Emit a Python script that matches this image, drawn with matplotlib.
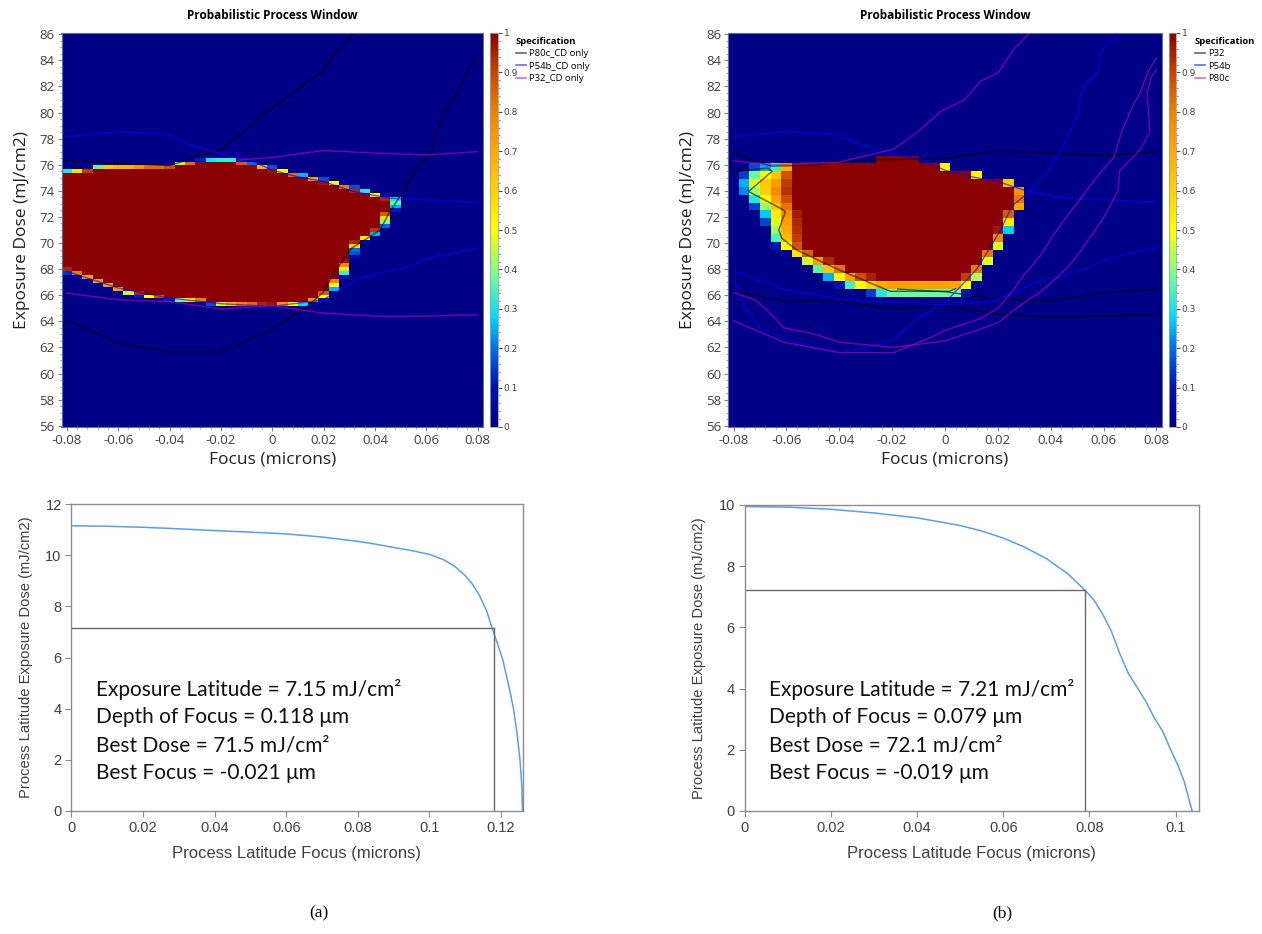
import numpy as np
import matplotlib
matplotlib.use("Agg")
import matplotlib.pyplot as plt
from matplotlib.path import Path
from matplotlib.colors import LinearSegmentedColormap
from matplotlib.lines import Line2D
from matplotlib.ticker import MultipleLocator

W, H = 1262, 934

# ---------------- heat map grids (cell centres) ----------------
focus_centres = np.round(np.arange(-0.08, 0.0801, 0.004), 4)
dose_centres_a = np.round(np.arange(56, 86.01, 0.3), 2)
dose_centres_b = np.round(np.arange(56, 86.01, 0.6), 2)

# (a) region where probability = 1 (sharp edge)
a_win_focus = [-0.083, -0.076, -0.07, -0.064, -0.04, -0.036, -0.03, -0.024, -0.014, -0.008,
               0.0, 0.008, 0.02, 0.03, 0.04, 0.048, 0.0465, 0.044, 0.042, 0.036, 0.031,
               0.030, 0.027, 0.023, 0.019, 0.014, 0.008, 0.0, -0.01, -0.02, -0.03, -0.04,
               -0.05, -0.058, -0.065, -0.07, -0.076, -0.083]
a_win_dose = [75.4, 75.5, 75.7, 75.85, 75.9, 76.1, 76.25, 76.35, 76.35, 76.0,
              75.7, 75.3, 74.8, 74.3, 73.7, 73.4, 72.5, 71.8, 71.0, 70.4, 69.6,
              68.6, 67.6, 66.5, 65.7, 65.4, 65.3, 65.15, 65.2, 65.3, 65.55, 65.7,
              65.95, 66.3, 66.8, 67.2, 67.6, 68.0]

# (b) core (p ~ 1) and outer edge (p ~ 0) of the window
b_core_focus = [-0.059, -0.0397, -0.0395, -0.025, -0.024, -0.012, -0.006, 0.007, 0.016,
                0.026, 0.027, 0.022, 0.018, 0.0132, 0.0094, 0.006, -0.0246, -0.032,
                -0.0396, -0.047, -0.0548, -0.0548, -0.0585, -0.059]
b_core_dose = [75.9, 75.9, 76.3, 76.3, 76.5, 76.5, 76.0, 75.3, 74.9,
               74.4, 73.0, 72.0, 70.2, 68.7, 67.6, 67.4, 67.4, 67.6,
               68.35, 68.97, 69.7, 72.0, 74.0, 75.5]
b_edge_focus = [-0.071, -0.0397, -0.0395, -0.025, -0.024, -0.012, -0.006, 0.007, 0.016,
                0.026, 0.0315, 0.032, 0.027, 0.023, 0.018, 0.0135, 0.0085, 0.006,
                -0.022, -0.0396, -0.047, -0.0548, -0.066, -0.0698, -0.0787, -0.0787,
                -0.0736]
b_edge_dose = [76.0, 76.0, 76.4, 76.4, 76.7, 76.7, 76.2, 75.5, 75.1,
               74.6, 74.4, 73.0, 72.0, 70.2, 68.7, 67.4, 66.2, 65.8,
               65.8, 66.7, 67.5, 68.5, 70.0, 72.0, 74.0, 75.0,
               75.9]

# ---------------- spec contours, panel (a) ----------------
a_p80c_up_f = [-0.08, -0.04, -0.0198, -0.0087, -0.0031, 0.008, 0.0136, 0.0198, 0.0254, 0.0325]
a_p80c_up_d = [76.32, 75.94, 77.19, 78.93, 79.95, 81.48, 82.37, 83.14, 84.8, 86.2]
a_p80c_lo_f = [-0.08, -0.0601, -0.04, -0.0198, -0.0003, 0.0136, 0.0198, 0.024, 0.0309, 0.042,
               0.0455, 0.0497, 0.056, 0.0622, 0.0636, 0.0685, 0.0726, 0.0761, 0.08]
a_p80c_lo_d = [64.12, 62.33, 61.64, 61.64, 63.35, 65.14, 66.21, 67.7, 69.6, 71.0,
               72.3, 73.57, 75.6, 76.9, 78.4, 80.5, 81.6, 83.3, 84.3]
a_p54b_up_f = [-0.08, -0.06, -0.04, -0.0337, -0.0198, -0.0087, -0.0003, 0.0094, 0.0198,
               0.0316, 0.0455, 0.0608, 0.08]
a_p54b_up_d = [78.16, 78.55, 78.29, 77.65, 76.83, 76.37, 75.6, 75.1, 74.72,
               73.95, 73.44, 73.31, 73.1]
a_p54b_lo_f = [-0.08, -0.0698, -0.06, -0.04, -0.0198, -0.0003, 0.015, 0.0198, 0.033,
               0.0414, 0.0539, 0.0608, 0.08]
a_p54b_lo_d = [67.82, 67.18, 66.55, 65.78, 65.35, 65.14, 65.52, 65.65, 67.18,
               67.7, 68.2, 68.84, 69.6]
a_p32_up_f = [-0.014, -0.0003, 0.0198, 0.0414, 0.0608, 0.08]
a_p32_up_d = [76.35, 76.55, 77.09, 76.88, 76.76, 77.0]
a_p32_lo_f = [-0.08, -0.06, -0.04, -0.0198, -0.0003, 0.0198, 0.0414, 0.0608, 0.08]
a_p32_lo_d = [66.16, 65.65, 65.52, 64.94, 65.2, 64.63, 64.38, 64.4, 64.5]

# ---------------- spec contours, panel (b) ----------------
b_p32_up_f = [-0.08, -0.072, -0.066, -0.05, -0.04, -0.0194, 0.0, 0.0201, 0.0402, 0.061, 0.08]
b_p32_up_d = [76.88, 76.3, 75.9, 75.95, 76.3, 76.4, 76.48, 77.06, 76.9, 76.7, 77.0]
b_p32_lo_f = [-0.08, -0.061, -0.0402, -0.0194, 0.0, 0.0201, 0.0402, 0.061, 0.08]
b_p32_lo_d = [66.27, 65.58, 65.5, 64.94, 65.19, 64.55, 64.3, 64.43, 64.48]
b_p32_lo2_f = [-0.0179, 0.0, 0.0194, 0.0402, 0.061, 0.08]
b_p32_lo2_d = [66.47, 66.27, 65.7, 65.58, 66.2, 66.47]
b_p32_win_f = [-0.08, -0.0672, -0.0654, -0.0743, -0.0623, -0.0604, -0.0629, -0.0617,
               -0.056, -0.0396, -0.0207, 0.0015, 0.004]
b_p32_win_d = [75.46, 75.75, 75.5, 73.95, 72.67, 72.41, 71.0, 70.36,
               69.46, 67.9, 66.3, 66.3, 66.5]
b_p54b_up_f = a_p54b_up_f
b_p54b_up_d = a_p54b_up_d
b_p54b_lo_f = [-0.08, -0.061, -0.0402, 0.0, 0.0194, 0.0343, 0.0537, 0.061, 0.08]
b_p54b_lo_d = [67.87, 66.47, 65.7, 65.24, 65.57, 66.98, 68.05, 68.77, 69.66]
b_p54b_u_f = [-0.08, -0.076, -0.07, -0.0596, -0.0402, -0.0268, -0.0194, -0.0104, 0.0,
              0.006, 0.012, 0.0166, 0.021, 0.0254, 0.033, 0.0402, 0.0447, 0.0477,
              0.0507, 0.0514, 0.0537, 0.058, 0.0588, 0.0667]
b_p54b_u_d = [67.3, 65.2, 63.5, 62.6, 61.6, 62.1, 62.6, 64.2, 65.45,
              66.7, 68.0, 69.5, 71.0, 72.85, 74.1, 75.9, 77.45, 78.7,
              80.0, 81.5, 82.3, 83.06, 84.6, 86.2]
b_p80c_up_f = [-0.08, -0.0655, -0.04, -0.0194, -0.0104, -0.0015, 0.0075, 0.0134, 0.0201, 0.026, 0.0325]
b_p80c_up_d = [76.3, 76.0, 76.2, 77.2, 78.5, 80.1, 81.0, 82.4, 83.06, 84.85, 86.2]
b_p80c_lo_f = [-0.08, -0.061, -0.04, -0.0194, -0.005, 0.0, 0.0134, 0.0201, 0.025, 0.03,
               0.036, 0.041, 0.046, 0.052, 0.058, 0.064, 0.0668, 0.071, 0.074, 0.077, 0.08]
b_p80c_lo_d = [64.04, 62.4, 61.6, 61.6, 62.8, 63.3, 64.2, 65.0, 66.2, 67.6,
               69.0, 70.6, 72.0, 73.6, 75.2, 76.6, 78.5, 80.5, 81.6, 83.2, 84.2]
b_p80c_u_f = [-0.08, -0.0715, -0.066, -0.061, -0.0506, -0.04, -0.0194, 0.0, 0.0104, 0.0201,
              0.0283, 0.0358, 0.0432, 0.0492, 0.0596, 0.0655, 0.066, 0.074, 0.0775, 0.0765,
              0.078, 0.08]
b_p80c_u_d = [66.2, 65.6, 64.6, 63.5, 63.1, 62.4, 62.0, 62.5, 63.2, 63.9,
              65.2, 66.2, 67.5, 68.8, 71.8, 74.0, 75.5, 77.2, 78.5, 81.5,
              82.7, 83.3]

# ---------------- process latitude curves ----------------
pl_a_focus = [0.0, 0.01, 0.02, 0.03, 0.04, 0.05, 0.06, 0.07, 0.08, 0.085, 0.09, 0.095,
              0.1, 0.104, 0.107, 0.11, 0.112, 0.114, 0.116, 0.1175, 0.119, 0.1205,
              0.122, 0.1235, 0.1245, 0.1253, 0.1258, 0.126]
pl_a_dose = [11.15, 11.13, 11.09, 11.03, 10.96, 10.9, 10.83, 10.71, 10.54, 10.43, 10.3, 10.18,
             10.03, 9.82, 9.57, 9.2, 8.87, 8.42, 7.82, 7.15, 6.55, 5.9,
             5.0, 4.0, 3.0, 2.0, 1.0, 0.0]
pl_b_focus = [0.0, 0.01, 0.02, 0.03, 0.04, 0.05, 0.055, 0.06, 0.065, 0.07, 0.075, 0.079,
              0.081, 0.083, 0.085, 0.087, 0.089, 0.091, 0.093, 0.095, 0.097, 0.099,
              0.1005, 0.102, 0.1038]
pl_b_dose = [9.95, 9.93, 9.86, 9.74, 9.58, 9.33, 9.15, 8.92, 8.62, 8.25, 7.75, 7.21,
             6.9, 6.45, 5.9, 5.15, 4.5, 4.05, 3.6, 3.05, 2.6, 1.95,
             1.5, 0.95, 0.0]

el_a, dof_a, bd_a, bf_a = 7.15, 0.118, 71.5, -0.021
el_b, dof_b, bd_b, bf_b = 7.21, 0.079, 72.1, -0.019

legend_a = ["P80c_CD only", "P54b_CD only", "P32_CD only"]
legend_b = ["P32", "P54b", "P80c"]

# ---------------------------------------------------------------
cmap = LinearSegmentedColormap.from_list("ppw", [
    (0.0, "#000086"), (0.1, "#0012b4"), (0.2, "#0070ea"), (0.28, "#00dcff"),
    (0.38, "#6cff96"), (0.5, "#ffff00"), (0.6, "#ffd200"), (0.7, "#ffa800"),
    (0.8, "#f08200"), (0.9, "#c84600"), (1.0, "#8b0000")])

BLACK, BLUE, MAG = "#000000", "#0000ff", "#c000c0"
LALPHA = 0.6


def coverage(fc, dc, df, dd, pf, pd, n=6):
    path = Path(np.column_stack([pf, pd]))
    off = (np.arange(n) + 0.5) / n - 0.5
    F, D = np.meshgrid(fc, dc)
    tot = np.zeros(F.shape)
    for ox in off:
        for oy in off:
            pts = np.column_stack([(F + ox * df).ravel(), (D + oy * dd).ravel()])
            tot += path.contains_points(pts).reshape(F.shape)
    return tot / n ** 2


def poly_dist(px, py, xs, ys):
    x1, y1 = np.asarray(xs), np.asarray(ys)
    x2, y2 = np.roll(x1, -1), np.roll(y1, -1)
    dx, dy = x2 - x1, y2 - y1
    t = ((px[:, None] - x1) * dx + (py[:, None] - y1) * dy) / (dx ** 2 + dy ** 2)
    t = np.clip(t, 0, 1)
    qx, qy = x1 + t * dx, y1 + t * dy
    return np.sqrt((px[:, None] - qx) ** 2 + (py[:, None] - qy) ** 2).min(axis=1)


def ramp(fc, dc, df, dd, cf, cd, ef, ed, shape=0.7):
    F, D = np.meshgrid(fc, dc)
    pts = np.column_stack([F.ravel(), D.ravel()])
    inner = Path(np.column_stack([cf, cd])).contains_points(pts)
    outer = Path(np.column_stack([ef, ed])).contains_points(pts)
    px, py = pts[:, 0] / df, pts[:, 1] / dd
    di = poly_dist(px, py, np.asarray(cf) / df, np.asarray(cd) / dd)
    do = poly_dist(px, py, np.asarray(ef) / df, np.asarray(ed) / dd)
    t = do / (di + do + 1e-9)
    p = np.where(inner, 1.0, np.where(outer, t ** shape, 0.0))
    return p.reshape(F.shape)


def edges(c, step):
    return np.concatenate([c - step / 2, [c[-1] + step / 2]])


def ax_rect(x0, y0, x1, y1):
    return [x0 / W, 1 - y1 / H, (x1 - x0) / W, (y1 - y0) / H]


fig = plt.figure(figsize=(W / 100, H / 100), dpi=100)
HF = ["Open Sans", "DejaVu Sans"]


def heat_panel(rect, crect, prob, dose_c, dstep, lines, leg_labels, leg_x):
    ax = fig.add_axes(ax_rect(*rect))
    mesh = ax.pcolormesh(edges(focus_centres, 0.004), edges(dose_c, dstep), prob,
                         cmap=cmap, vmin=0, vmax=1, shading="flat")
    for f, d, c in lines:
        ax.plot(f, d, color=c, lw=1.0, alpha=LALPHA)
    ax.set_xlim(-0.0821, 0.0821)
    ax.set_ylim(55.9, 86.1)
    ax.set_xticks(np.round(np.arange(-0.08, 0.081, 0.02), 2))
    ax.set_xticklabels(["-0.08", "-0.06", "-0.04", "-0.02", "0", "0.02", "0.04", "0.06", "0.08"])
    ax.set_yticks(np.arange(56, 87, 2))
    ax.xaxis.set_minor_locator(MultipleLocator(0.004))
    ax.yaxis.set_minor_locator(MultipleLocator(0.5))
    ax.tick_params(which="major", length=3, color="#808080", labelsize=9.5,
                   labelcolor="#404040", pad=2)
    ax.tick_params(which="minor", length=1.5, color="#909090")
    for lab in ax.get_xticklabels() + ax.get_yticklabels():
        lab.set_family(HF)
    for s in ax.spines.values():
        s.set_color("#6070a0")
        s.set_linewidth(0.8)
    ax.set_xlabel("Focus (microns)", family=HF, fontsize=12.5, color="#202020", labelpad=3)
    ax.set_ylabel("Exposure Dose (mJ/cm2)", family=HF, fontsize=12.5, color="#202020", labelpad=7)
    ax.set_title("Probabilistic Process Window", family=HF, fontsize=8.5,
                 fontweight="bold", pad=10)
    cax = fig.add_axes(ax_rect(*crect))
    cb = fig.colorbar(mesh, cax=cax)
    cb.set_ticks(np.round(np.arange(0, 1.01, 0.1), 1))
    cb.set_ticklabels(["0", "0.1", "0.2", "0.3", "0.4", "0.5", "0.6", "0.7", "0.8", "0.9", "1"])
    cb.ax.yaxis.set_minor_locator(MultipleLocator(0.02))
    cb.ax.tick_params(which="major", length=3, labelsize=6.5, labelcolor="#404040",
                      color="#505050", pad=1)
    cb.ax.tick_params(which="minor", length=1.5, color="#707070")
    cb.outline.set_edgecolor("#a0a0a0")
    cb.outline.set_linewidth(0.6)
    handles = [Line2D([], [], color=c, lw=1.2, alpha=LALPHA) for c in (BLACK, BLUE, MAG)]
    fig.legend(handles, leg_labels, title="Specification", loc="upper left",
               bbox_to_anchor=(leg_x / W, 1 - 37 / H), frameon=False,
               prop={"family": HF, "size": 6.8}, handlelength=1.1, handletextpad=0.3,
               labelspacing=0.35, borderaxespad=0, borderpad=0,
               title_fontproperties={"family": HF, "size": 6.8, "weight": "bold"},
               alignment="left")
    return ax


prob_a = coverage(focus_centres, dose_centres_a, 0.004, 0.3, a_win_focus, a_win_dose)
prob_b = ramp(focus_centres, dose_centres_b, 0.004, 0.6,
              b_core_focus, b_core_dose, b_edge_focus, b_edge_dose)

lines_a = [(a_p80c_up_f, a_p80c_up_d, BLACK), (a_p80c_lo_f, a_p80c_lo_d, BLACK),
           (a_p54b_up_f, a_p54b_up_d, BLUE), (a_p54b_lo_f, a_p54b_lo_d, BLUE),
           (a_p32_up_f, a_p32_up_d, MAG), (a_p32_lo_f, a_p32_lo_d, MAG)]
lines_b = [(b_p32_up_f, b_p32_up_d, BLACK), (b_p32_lo_f, b_p32_lo_d, BLACK),
           (b_p32_lo2_f, b_p32_lo2_d, BLACK), (b_p32_win_f, b_p32_win_d, BLACK),
           (b_p54b_up_f, b_p54b_up_d, BLUE), (b_p54b_lo_f, b_p54b_lo_d, BLUE),
           (b_p54b_u_f, b_p54b_u_d, BLUE),
           (b_p80c_up_f, b_p80c_up_d, MAG), (b_p80c_lo_f, b_p80c_lo_d, MAG),
           (b_p80c_u_f, b_p80c_u_d, MAG)]

heat_panel((61.5, 33, 483, 427), (490, 33, 498, 427), prob_a, dose_centres_a, 0.3,
           lines_a, legend_a, 516)
heat_panel((728, 33, 1162, 427), (1169, 33, 1176, 427), prob_b, dose_centres_b, 0.6,
           lines_b, legend_b, 1195)

# ---------------- process latitude panels ----------------
AF = ["Liberation Sans", "DejaVu Sans"]
TF = ["Lato", "DejaVu Sans"]


def latitude_panel(rect, fx, dy, xmax, ymax, yticks, xticks, xlabels, el, dof, bd, bf):
    ax = fig.add_axes(ax_rect(*rect))
    ax.plot(fx, dy, color="#5b9ee8", lw=1.1)
    ax.plot([0, dof], [el, el], color="#6a6a6a", lw=1.0)
    ax.plot([dof, dof], [0, el], color="#6a6a6a", lw=1.0)
    ax.set_xlim(0, xmax)
    ax.set_ylim(0, ymax)
    ax.set_yticks(yticks)
    ax.set_xticks(xticks)
    ax.set_xticklabels(xlabels)
    ax.tick_params(length=4, color="#8c8c8c", labelsize=10.5, labelcolor="#404040", pad=3)
    for lab in ax.get_xticklabels() + ax.get_yticklabels():
        lab.set_family(AF)
    for s in ax.spines.values():
        s.set_color("#8c8c8c")
        s.set_linewidth(1.0)
    ax.set_xlabel("Process Latitude Focus (microns)", family=AF, fontsize=12,
                  color="#404040", labelpad=8)
    ax.set_ylabel("Process Latitude Exposure Dose (mJ/cm2)", family=AF, fontsize=10.6,
                  color="#404040", labelpad=9)
    texts = [f"Exposure Latitude = {el:.2f} mJ/cm²",
             f"Depth of Focus = {dof:.3f} μm",
             f"Best Dose = {bd:.1f} mJ/cm²",
             f"Best Focus = {bf:.3f} μm"]
    x0 = (rect[0] + 24.5) / W
    for i, t in enumerate(texts):
        yy = 689 + i * 28
        fig.text(x0, 1 - yy / H, t, family=TF, fontsize=15, va="center", ha="left",
                 color="#111111")
    return ax


latitude_panel((71.4, 504, 522.5, 811), pl_a_focus, pl_a_dose, 0.126, 12,
               np.arange(0, 13, 2), [0, 0.02, 0.04, 0.06, 0.08, 0.1, 0.12],
               ["0", "0.02", "0.04", "0.06", "0.08", "0.1", "0.12"],
               el_a, dof_a, bd_a, bf_a)
latitude_panel((744.5, 505, 1199, 811), pl_b_focus, pl_b_dose, 0.1054, 10,
               np.arange(0, 11, 2), [0, 0.02, 0.04, 0.06, 0.08, 0.1],
               ["0", "0.02", "0.04", "0.06", "0.08", "0.1"],
               el_b, dof_b, bd_b, bf_b)

fig.text(319 / W, 1 - 913 / H, "(a)", family=["Liberation Serif"], fontsize=12.5,
         ha="center", va="center")
fig.text(1002 / W, 1 - 913 / H, "(b)", family=["Liberation Serif"], fontsize=12.5,
         ha="center", va="center")

fig.savefig("out.png", dpi=100)
